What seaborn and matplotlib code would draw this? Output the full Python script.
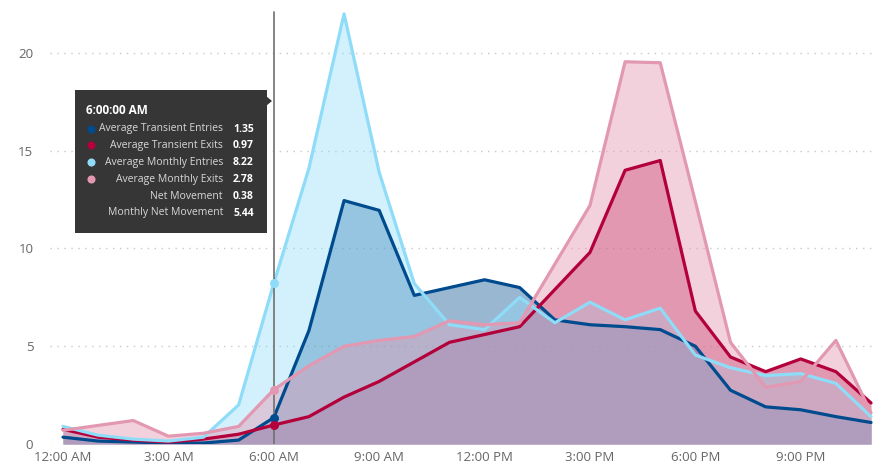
import numpy as np
import pandas as pd
import matplotlib
matplotlib.use("Agg")
import matplotlib.pyplot as plt
import seaborn as sns
from matplotlib.patches import FancyBboxPatch, Polygon

hours = list(range(24))
tick_hours = [0, 3, 6, 9, 12, 15, 18, 21]
tick_labels = ["12:00 AM", "3:00 AM", "6:00 AM", "9:00 AM",
               "12:00 PM", "3:00 PM", "6:00 PM", "9:00 PM"]
y_ticks = [0, 5, 10, 15, 20]

transient_entries = [0.35, 0.15, 0.10, 0.05, 0.05, 0.20, 1.35, 5.8, 12.45, 11.95,
                     7.6, 8.0, 8.4, 8.0, 6.35, 6.1, 6.0, 5.85, 5.0, 2.75,
                     1.9, 1.75, 1.4, 1.1]
transient_exits = [0.75, 0.35, 0.2, 0.1, 0.25, 0.5, 0.97, 1.4, 2.4, 3.2,
                   4.2, 5.2, 5.6, 6.0, 7.9, 9.8, 14.0, 14.5, 6.8, 4.45,
                   3.7, 4.35, 3.7, 2.1]
monthly_entries = [0.9, 0.45, 0.25, 0.15, 0.35, 2.0, 8.22, 14.1, 22.0, 13.9,
                   8.2, 6.1, 5.85, 7.5, 6.2, 7.25, 6.35, 6.95, 4.55, 3.9,
                   3.5, 3.6, 3.1, 1.4]
monthly_exits = [0.7, 0.95, 1.2, 0.4, 0.55, 0.9, 2.78, 4.0, 5.0, 5.3,
                 5.5, 6.3, 6.1, 6.2, 9.2, 12.2, 19.55, 19.5, 12.4, 5.2,
                 2.9, 3.2, 5.3, 1.6]

series_names = ["Average Transient Entries", "Average Transient Exits",
                "Average Monthly Entries", "Average Monthly Exits"]
series_values = [transient_entries, transient_exits, monthly_entries, monthly_exits]
colors = ["#004b8e", "#b3003b", "#8fdcf8", "#e398b2"]

df = pd.DataFrame({
    "hour": np.tile(hours, 4),
    "value": np.concatenate(series_values),
    "series": np.repeat(series_names, 24),
})

sns.set_theme(style="white")
plt.rcParams["font.family"] = ["Open Sans", "DejaVu Sans"]

fig = plt.figure(figsize=(8.77, 4.66), dpi=100)
ax = fig.add_axes([50 / 877, 22 / 466, 827 / 877, 436 / 466])

# fills (drawn in this stacking order)
fill_order = [1, 0, 2, 3]
fill_alpha = [0.4, 0.4, 0.4, 0.44]
for i in fill_order:
    ax.fill_between(hours, 0, series_values[i], color=colors[i], alpha=fill_alpha[i],
                    linewidth=0, zorder=1)

sns.lineplot(data=df, x="hour", y="value", hue="series", hue_order=series_names,
             palette=colors, linewidth=2.3, legend=False, ax=ax, zorder=3)

ax.set_xlim(-0.37, 23.17)
ax.set_ylim(0, 22.3)
ax.set_xticks(tick_hours)
ax.set_xticklabels(tick_labels)
ax.set_yticks(y_ticks)
ax.tick_params(axis="both", length=0, labelsize=9.5, labelcolor="#666666")
ax.tick_params(axis="x", pad=5)
ax.tick_params(axis="y", pad=12)
ax.set_xlabel("")
ax.set_ylabel("")
for s in ax.spines.values():
    s.set_visible(False)
ax.grid(axis="y", color="#c8c8c8", linestyle=(0, (1, 4)), linewidth=1.0, zorder=0)
ax.grid(axis="x", visible=False)

# hover line and markers at 6 AM
sel = 6
ax.axvline(sel, ymin=0, ymax=(444 - 12) / 436, color="#707070", linewidth=1.2, zorder=4)
for vals, c in zip(series_values, colors):
    ax.scatter([sel], [vals[sel]], s=42, color=c, zorder=5, linewidths=0)

# tooltip overlay in pixel coordinates
ov = fig.add_axes([0, 0, 1, 1])
ov.set_xlim(0, 877)
ov.set_ylim(466, 0)
ov.axis("off")
ov.patch.set_alpha(0)
box = FancyBboxPatch((75, 90), 192, 143, boxstyle="square,pad=0",
                     facecolor="#363636", edgecolor="none", zorder=10)
ov.add_patch(box)
ov.add_patch(Polygon([[266, 96], [272, 101], [266, 106]], closed=True,
                     facecolor="#363636", edgecolor="none", zorder=10))
ov.text(86, 110, "6:00:00 AM", color="white", fontsize=8.5, fontweight="bold",
        va="center", ha="left", zorder=11)

net = transient_entries[sel] - transient_exits[sel]
mnet = monthly_entries[sel] - monthly_exits[sel]
rows = [(series_names[i], series_values[i][sel], colors[i]) for i in range(4)]
rows += [("Net Movement", net, None), ("Monthly Net Movement", mnet, None)]
y0 = 129
for k, (name, val, c) in enumerate(rows):
    yy = y0 + k * 16.8
    if c is not None:
        ov.scatter([91], [yy - 0.5], s=34, color=c, zorder=11, linewidths=0)
    ov.text(223, yy, name, color="#d8d8d8", fontsize=7.5, ha="right", va="center",
            zorder=11)
    ov.text(233, yy, f"{val:.2f}", color="white", fontsize=7.5, fontweight="bold",
            ha="left", va="center", zorder=11)

fig.savefig("out.png", dpi=100)
